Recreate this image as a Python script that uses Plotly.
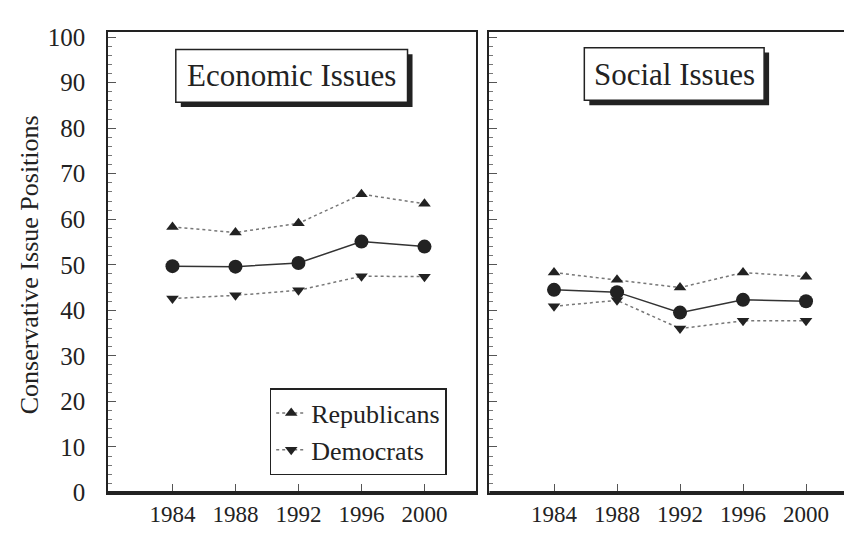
import plotly.graph_objects as go

years = [1984, 1988, 1992, 1996, 2000]
econ_rep = [58.3, 57.1, 59.1, 65.5, 63.4]
econ_mean = [49.7, 49.6, 50.4, 55.1, 54.0]
econ_dem = [42.6, 43.3, 44.4, 47.5, 47.4]
soc_rep = [48.3, 46.7, 45.0, 48.3, 47.4]
soc_mean = [44.5, 44.0, 39.5, 42.3, 42.0]
soc_dem = [40.9, 42.2, 36.0, 37.7, 37.7]
y_ticks = [0, 10, 20, 30, 40, 50, 60, 70, 80, 90, 100]
panel_titles = ["Economic Issues", "Social Issues"]
legend_names = ["Republicans", "Democrats"]
y_title = "Conservative Issue Positions"

W, H = 852, 534
def px(x):
    return x / W
def py(y):
    return 1 - y / H

FONT = "Times New Roman, Liberation Serif, serif"
INK = "#222222"

fig = go.Figure()

def add_panel(rep, mean, dem, xa, ya, show):
    fig.add_trace(go.Scatter(x=years, y=rep, mode="lines+markers", name=legend_names[0],
                             xaxis=xa, yaxis=ya, showlegend=show,
                             line=dict(color="#777777", width=1.5, dash="dot"),
                             marker=dict(symbol="triangle-up", size=11, color=INK)))
    fig.add_trace(go.Scatter(x=years, y=mean, mode="lines+markers", name="Mean",
                             xaxis=xa, yaxis=ya, showlegend=False,
                             line=dict(color="#333333", width=1.5),
                             marker=dict(symbol="circle", size=14, color=INK)))
    fig.add_trace(go.Scatter(x=years, y=dem, mode="lines+markers", name=legend_names[1],
                             xaxis=xa, yaxis=ya, showlegend=show,
                             line=dict(color="#777777", width=1.5, dash="dot"),
                             marker=dict(symbol="triangle-down", size=11, color=INK)))

add_panel(econ_rep, econ_mean, econ_dem, "x", "y", True)
add_panel(soc_rep, soc_mean, soc_dem, "x2", "y2", False)

ydom = [py(497), py(17)]
common_x = dict(range=[1979.9, 2003.3], tickvals=years, ticks="inside", ticklen=9,
                tickcolor="#555555", showline=True, linecolor=INK, linewidth=1.5, mirror=True,
                showgrid=False, zeroline=False, tickfont=dict(family=FONT, size=23, color=INK),
                fixedrange=True)
common_y = dict(range=[0, 101.05], tickvals=y_ticks, ticks="inside", ticklen=8,
                tickcolor="#555555", showline=True, linecolor=INK, linewidth=1.5, mirror=True,
                showgrid=False, zeroline=False,
                minor=dict(dtick=2, ticks="inside", ticklen=4, tickcolor="#777777"),
                fixedrange=True)

fig.update_layout(
    width=W, height=H,
    margin=dict(l=0, r=0, t=0, b=0),
    paper_bgcolor="white", plot_bgcolor="white",
    xaxis=dict(domain=[px(100), px(469)], anchor="y", **common_x),
    yaxis=dict(domain=ydom, anchor="x", tickfont=dict(family=FONT, size=25, color=INK),
               showticklabels=True, ticklabelstandoff=16, **common_y),
    xaxis2=dict(domain=[px(482), px(851)], anchor="y2", **common_x),
    yaxis2=dict(domain=ydom, anchor="x2", showticklabels=False, **common_y),
    legend=dict(x=px(262), y=py(388), xanchor="left", yanchor="top",
                bgcolor="white", bordercolor=INK, borderwidth=1.5,
                font=dict(family=FONT, size=26, color=INK),
                itemwidth=30, tracegroupgap=0),
    showlegend=True,
)

# thicker bottom axis lines
for x0, x1 in [(100, 469), (482, 852)]:
    fig.add_shape(type="line", xref="paper", yref="paper", x0=px(x0), x1=px(x1),
                  y0=py(497), y1=py(497), line=dict(color=INK, width=3))

# title boxes with drop shadow
boxes = [(168, 35, 400, 90, panel_titles[0]), (577, 33, 757, 88, panel_titles[1])]
for x0, y0, x1, y1, text in boxes:
    fig.add_shape(type="rect", xref="paper", yref="paper",
                  x0=px(x0 + 5), x1=px(x1 + 5), y0=py(y1 + 5), y1=py(y0 + 5),
                  fillcolor="#222222", line=dict(width=0))
    fig.add_shape(type="rect", xref="paper", yref="paper",
                  x0=px(x0), x1=px(x1), y0=py(y1), y1=py(y0),
                  fillcolor="white", line=dict(color=INK, width=1.5))
    fig.add_annotation(x=px((x0 + x1) / 2), y=py((y0 + y1) / 2), xref="paper", yref="paper",
                       text=text, showarrow=False, xanchor="center", yanchor="middle",
                       font=dict(family=FONT, size=31, color=INK))

fig.add_annotation(x=px(21), y=py(259), xref="paper", yref="paper", text=y_title,
                   textangle=-90, showarrow=False, xanchor="center", yanchor="middle",
                   font=dict(family=FONT, size=26, color=INK))

fig.write_html("out.html")
